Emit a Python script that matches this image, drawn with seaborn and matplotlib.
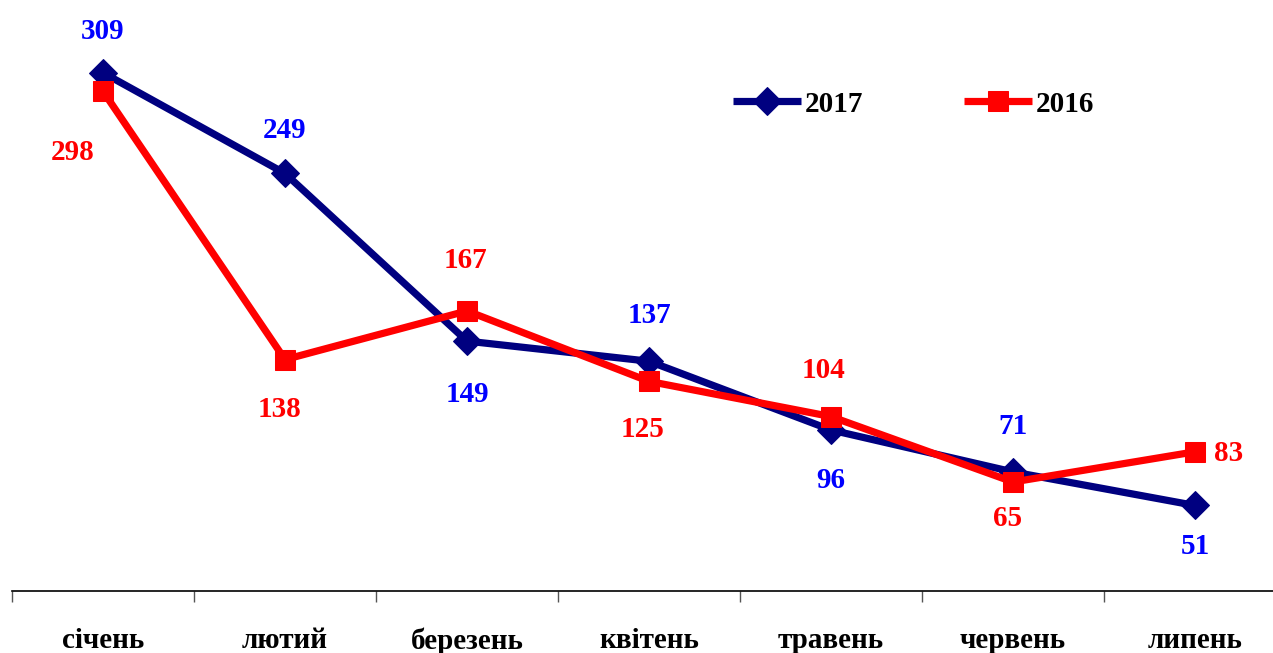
import matplotlib
matplotlib.use("Agg")
import matplotlib.pyplot as plt
import seaborn as sns
import pandas as pd
import numpy as np

months = ["січень", "лютий", "березень", "квітень", "травень", "червень", "липень"]
v2017 = [309, 249, 149, 137, 96, 71, 51]
v2016 = [298, 138, 167, 125, 104, 65, 83]

# label offsets in pixels (dx, dy) relative to the marker
off2017 = [(0, 41), (0, 43), (0, -53), (0, 46), (0, -51), (0, 45), (0, -41)]
off2016 = [(-30, -61), (-6, -50), (-2, 50), (-6, -48), (-8, 46), (-5, -37), (34, -2)]

sns.set_theme(style="white")
plt.rcParams["font.family"] = ["Liberation Serif", "DejaVu Serif"]
plt.rcParams["font.weight"] = "bold"
plt.rcParams["text.color"] = "black"
plt.rcParams["xtick.color"] = "black"

W, H = 1273, 653
fig = plt.figure(figsize=(W / 100, H / 100), dpi=100)
ax = fig.add_axes([12 / W, 62 / H, 1274 / W, 587 / H])

df = pd.DataFrame({"month": months, "2017": v2017, "2016": v2016})
x = np.arange(len(months))

navy = "#000080"
red = "#FF0000"
sns.lineplot(x=x, y=df["2017"], ax=ax, color=navy, lw=5.2, marker="D", markersize=14,
             markeredgecolor=navy, markerfacecolor=navy, label="2017", zorder=3,
             solid_capstyle="butt")
sns.lineplot(x=x, y=df["2016"], ax=ax, color=red, lw=5.2, marker="s", markersize=14.5,
             markeredgecolor=red, markerfacecolor=red, label="2016", zorder=4,
             solid_capstyle="butt")

pt = 0.72
for i, (v, (dx, dy)) in enumerate(zip(v2017, off2017)):
    ax.annotate(str(v), (i, v), xytext=(dx * pt, dy * pt), textcoords="offset points",
                ha="center", va="center", color="#0000FF", fontsize=21, fontweight="heavy")
for i, (v, (dx, dy)) in enumerate(zip(v2016, off2016)):
    ax.annotate(str(v), (i, v), xytext=(dx * pt, dy * pt), textcoords="offset points",
                ha="center", va="center", color=red, fontsize=21, fontweight="heavy")

ax.set_xlim(-0.5, 6.5)
ax.set_ylim(0, 350)
ax.set_xticks(x)
ax.set_xticklabels(months, fontsize=21, fontweight="heavy", color="black")
ax.set_xticks(np.arange(-0.5, 7.0, 1.0), minor=True)
ax.tick_params(axis="x", which="major", length=0, pad=26)
ax.tick_params(axis="x", which="minor", length=8, width=1, color="#555555", bottom=True)
ax.set_yticks([])
ax.set_xlabel("")
ax.set_ylabel("")
for s in ["top", "right", "left"]:
    ax.spines[s].set_visible(False)
ax.spines["bottom"].set_color("black")
ax.spines["bottom"].set_linewidth(1.2)

leg = ax.legend(loc="upper left", bbox_to_anchor=(709 / 1274, 1 - (79 - 4) / 587), ncol=2,
                frameon=False, fontsize=21, handlelength=2.35, handletextpad=0.12,
                columnspacing=3.45, borderaxespad=0)
for t in leg.get_texts():
    t.set_fontweight("heavy")
    t.set_color("black")
for h in leg.get_lines():
    h.set_solid_capstyle("butt")

fig.savefig("out.png", dpi=100)
